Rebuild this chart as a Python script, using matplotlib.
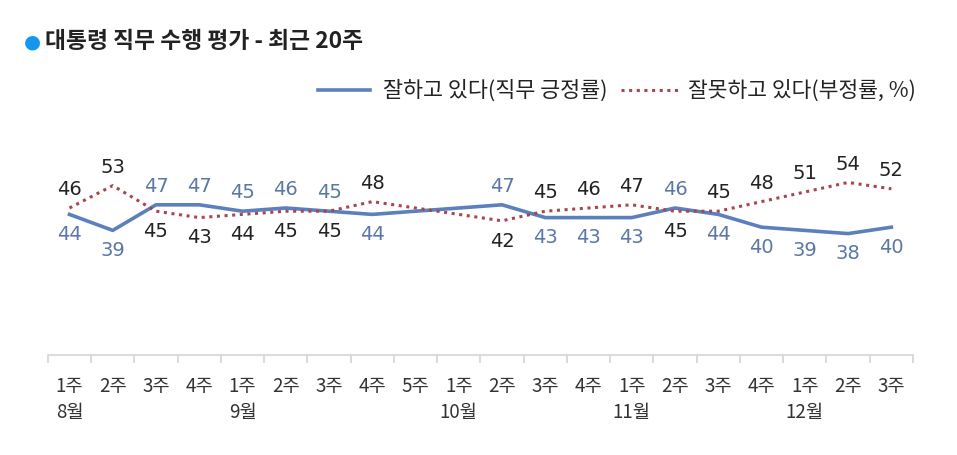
import numpy as np
import matplotlib
matplotlib.use("Agg")
import matplotlib.pyplot as plt
from matplotlib.lines import Line2D
from matplotlib import transforms

plt.rcParams['font.family'] = ['Noto Sans CJK KR', 'DejaVu Sans']

# 주차 라벨 (8월 1주 ~ 12월 3주)
weeks = ["1주", "2주", "3주", "4주", "1주", "2주", "3주", "4주", "5주", "1주",
         "2주", "3주", "4주", "1주", "2주", "3주", "4주", "1주", "2주", "3주"]
months = {0: "8월", 4: "9월", 9: "10월", 13: "11월", 17: "12월"}

# 직무 긍정률 / 부정률 (추석 주간은 조사 없음 -> nan)
pos = [44, 39, 47, 47, 45, 46, 45, 44, np.nan, np.nan,
       47, 43, 43, 43, 46, 44, 40, 39, 38, 40]
neg = [46, 53, 45, 43, 44, 45, 45, 48, np.nan, np.nan,
       42, 45, 46, 47, 45, 45, 48, 51, 54, 52]

blue = "#5b80bd"
red = "#a8464e"

fig = plt.figure(figsize=(9.57, 4.56), dpi=100)
ax = fig.add_axes([0.050, 0.219, 0.904, 0.491])

x = np.arange(len(weeks))
p = np.array(pos, dtype=float)
n = np.array(neg, dtype=float)
ok = ~np.isnan(p)

ax.plot(x[ok], p[ok], color=blue, lw=2.6, solid_joinstyle="round")
ax.plot(x[ok], n[ok], color=red, lw=2.2, linestyle=(0, (1, 1.5)))

for i in x[ok]:
    if p[i] >= n[i]:
        up, dn = (p[i], "#5a77a5"), (n[i], "#222222")
    else:
        up, dn = (n[i], "#222222"), (p[i], "#5a77a5")
    ax.annotate(f"{int(up[0])}", (i, up[0]), xytext=(0, 7), textcoords="offset points",
                ha="center", va="bottom", fontsize=14, color=up[1], family="DejaVu Sans")
    ax.annotate(f"{int(dn[0])}", (i, dn[0]), xytext=(0, -7), textcoords="offset points",
                ha="center", va="top", fontsize=14, color=dn[1], family="DejaVu Sans")

ax.set_xlim(-0.5, len(weeks) - 0.5)
ax.set_ylim(0, 70)
for s in ["top", "right", "left"]:
    ax.spines[s].set_visible(False)
ax.spines["bottom"].set_color("#d4d4d4")
ax.spines["bottom"].set_linewidth(1.2)
ax.set_yticks([])

ax.set_xticks(x)
ax.set_xticklabels(weeks, fontsize=13.5, color="#333333")
ax.tick_params(axis="x", which="major", length=0, pad=14)
ax.set_xticks(np.arange(-0.5, len(weeks)), minor=True)
ax.tick_params(axis="x", which="minor", length=6, color="#d4d4d4", width=1.2)

tr = transforms.blended_transform_factory(ax.transData, fig.transFigure)
for i, m in months.items():
    ax.text(i, 1 - 413 / 456, m, transform=tr, ha="center", va="center",
            fontsize=13.5, color="#333333")

# 제목
fig.text(32 / 957, 1 - 42 / 456, "●", color="#1496f0", fontsize=14,
         ha="center", va="center", family="DejaVu Sans")
fig.text(45 / 957, 1 - 42 / 456, "대통령 직무 수행 평가 - 최근 20주", fontsize=16.4,
         fontweight="bold", color="#222222", ha="left", va="center")

# 범례
fig.add_artist(Line2D([318 / 957, 370 / 957], [1 - 91 / 456] * 2, color=blue, lw=2.6))
fig.text(383 / 957, 1 - 91 / 456, "잘하고 있다(직무 긍정률)", fontsize=15.7,
         color="#222222", ha="left", va="center")
fig.add_artist(Line2D([621 / 957, 680 / 957], [1 - 91 / 456] * 2, color=red, lw=2.2,
                      linestyle=(0, (1, 1.5))))
fig.text(688 / 957, 1 - 91 / 456, "잘못하고 있다(부정률, %)", fontsize=15.5,
         color="#222222", ha="left", va="center")

fig.savefig("out.png", dpi=100)
